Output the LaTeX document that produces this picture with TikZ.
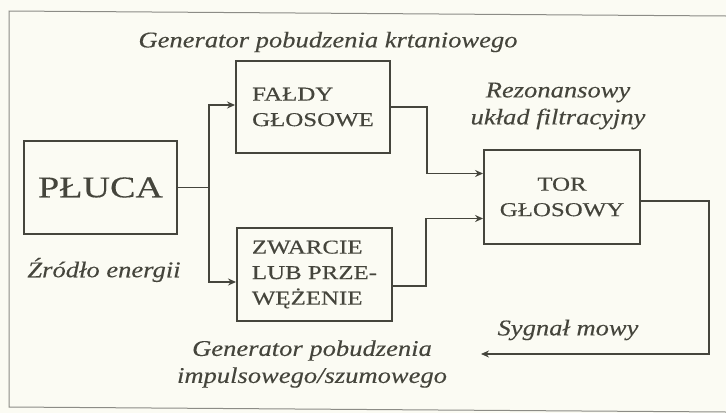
\documentclass[tikz,border=0pt]{standalone}
\usepackage{fontspec}
\setmainfont{Liberation Serif}
\newfontfamily\boxfont[FakeStretch=1.27,FakeBold=0.3]{Liberation Serif}
\newfontfamily\lblfont[FakeStretch=1.18,FakeBold=0.2]{Liberation Serif}
\usetikzlibrary{arrows.meta,calc}
\definecolor{ink}{HTML}{45453C}
\definecolor{paper}{HTML}{FBFBF3}
\definecolor{framec}{HTML}{8C8C86}
\tikzset{
  blk/.style={draw=ink, line width=1.9pt, inner sep=0pt, text=ink, font=\boxfont\fontsize{19.6}{25.5}\selectfont},
  lbl/.style={inner sep=0pt, text=ink, align=center, font=\lblfont\itshape\fontsize{22.5}{27}\selectfont},
  conn/.style={draw=ink, line width=1.9pt},
  arr/.style={conn, -{Stealth[length=8pt,width=7pt]}},
}
\begin{document}
\begin{tikzpicture}[x=1pt,y=-1pt]
\fill[paper] (0,0) rectangle (726,413);
\useasboundingbox (0,0) rectangle (726,413);
% frame
\draw[framec, line width=1pt] (726,16) -- (9,11) -- (9,407) -- (726,412);
% boxes
\node[blk, minimum width=153pt, minimum height=93pt, font=\boxfont\fontsize{30}{30}\selectfont] (pluca) at (100.5,187.5) {PŁUCA};
\node[blk, minimum width=154pt, minimum height=92pt, align=left] (falda) at (313,107) {FAŁDY\\GŁOSOWE};
\node[blk, minimum width=155pt, minimum height=93pt, align=left] (zwar) at (314.5,274.5) {ZWARCIE\\LUB PRZE-\\WĘŻENIE};
\node[blk, minimum width=156pt, minimum height=94pt, align=center] (tor) at (562,197) {TOR\\GŁOSOWY};
% labels
\node[lbl] (l1) at (328,42) {Generator pobudzenia krtaniowego};
\node[lbl] (l2) at (558,106) {Rezonansowy\\układ filtracyjny};
\node[lbl] (l3) at (104,270) {Źródło energii};
\node[lbl] (l4) at (312,364) {Generator pobudzenia\\impulsowego/szumowego};
\node[lbl] (l5) at (568,330) {Sygnał mowy};
% connectors
\coordinate (sig) at (481,354);
\draw[conn] (pluca.east) -- ++(31,0) coordinate (j);
\draw[arr] (j) |- ([yshift=2pt]falda.west);
\draw[arr] (j) |- ([yshift=-7.5pt]zwar.west);
\draw[arr] (falda.east) -- ++(36,0) |- ([yshift=23.5pt]tor.west);
\draw[arr] ([yshift=-11.5pt]zwar.east) -- ++(33,0) |- ([yshift=-21.5pt]tor.west);
\draw[arr] ([yshift=-4pt]tor.east) -- ++(68,0) |- (sig);
\end{tikzpicture}
\end{document}
